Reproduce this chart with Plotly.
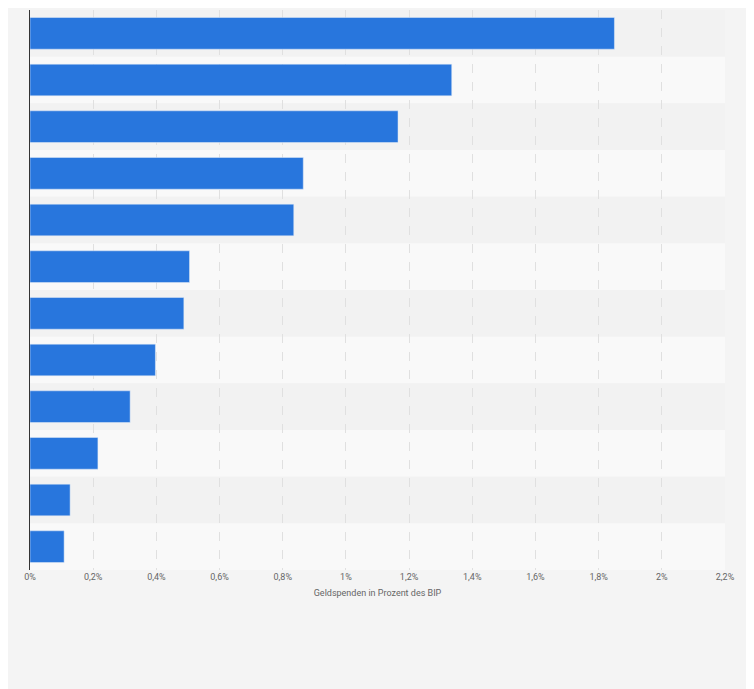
import plotly.graph_objects as go

categories = ["K1","K2","K3","K4","K5","K6","K7","K8","K9","K10","K11","K12"]
values = [1.85, 1.335, 1.165, 0.865, 0.835, 0.505, 0.487, 0.397, 0.317, 0.215, 0.127, 0.108]
tick_vals = [0,0.2,0.4,0.6,0.8,1,1.2,1.4,1.6,1.8,2,2.2]
tick_text = ["0%","0,2%","0,4%","0,6%","0,8%","1%","1,2%","1,4%","1,6%","1,8%","2%","2,2%"]

fig = go.Figure(go.Bar(x=values, y=categories, orientation="h",
                       marker_color="#2876dd", width=0.68))
shapes = []
for i in range(len(categories)):
    shapes.append(dict(type="rect", xref="paper", yref="y", x0=0, x1=1,
                       y0=i-0.5, y1=i+0.5, layer="below", line_width=0,
                       fillcolor="#f2f2f2" if i % 2 == 0 else "#f9f9f9"))
fig.update_layout(
    width=754, height=689, margin=dict(l=22, r=37, t=2, b=127),
    paper_bgcolor="#f4f4f4", plot_bgcolor="#f4f4f4", shapes=shapes,
    showlegend=False, bargap=0.32,
    font=dict(family="Roboto, Arial", size=9, color="#666666"),
    xaxis=dict(range=[0, 2.2], tickvals=tick_vals, ticktext=tick_text,
               showgrid=True, gridcolor="#e0e0e0", griddash="dash",
               zeroline=False, fixedrange=True,
               title=dict(text="Geldspenden in Prozent des BIP", font=dict(size=9, color="#666666"), standoff=8)),
    yaxis=dict(showticklabels=False, showgrid=False,
               showline=True, linecolor="#333333", linewidth=1, range=[11.5, -0.5]),
)
fig.write_html("out.html")
